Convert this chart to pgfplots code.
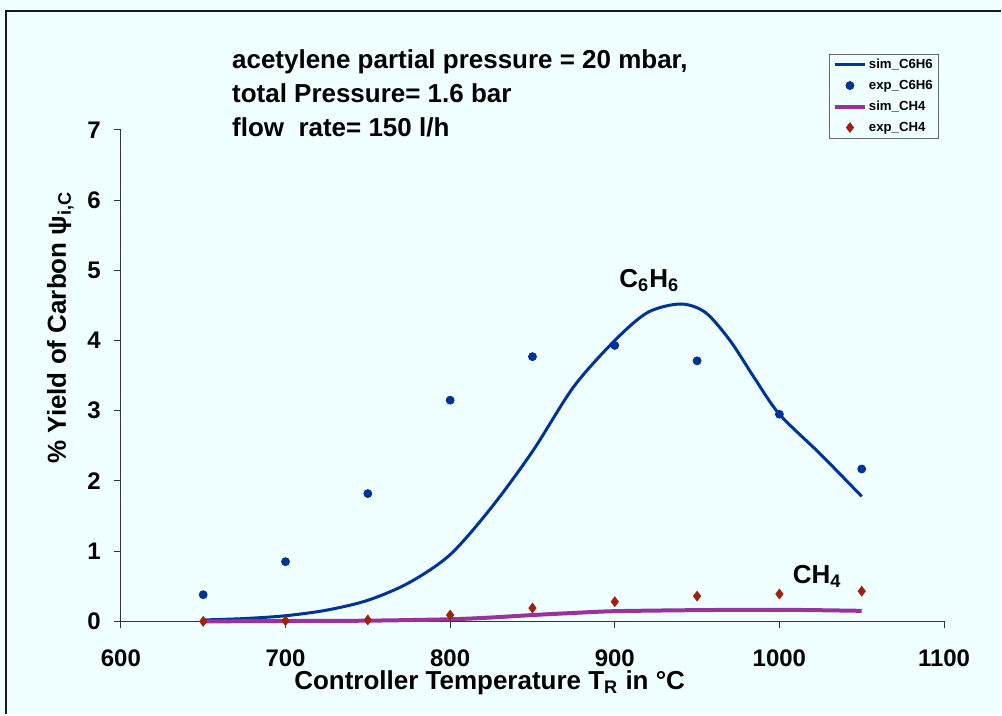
\documentclass[border=0pt]{standalone}
\usepackage{fontspec}
\setmainfont{Liberation Sans}
\usepackage{pgfplots}
\pgfplotsset{compat=1.18}
\definecolor{bgazure}{RGB}{240,255,255}
\definecolor{simblue}{RGB}{0,51,153}
\definecolor{simpurple}{RGB}{153,51,153}
\definecolor{expred}{RGB}{160,32,16}
\pgfplotsset{myleg/.style={legend image code/.code={%
  \draw[mark repeat=2,mark phase=2,##1] plot coordinates {(0pt,0pt) (7.5pt,0pt) (15pt,0pt)};}}}
\newcommand{\bigfont}{\fontsize{13}{15}\selectfont\bfseries}

\begin{document}
\begin{tikzpicture}
\fill[bgazure] (-60.5pt,-46.5pt) rectangle (440.5pt,311pt);
\begin{axis}[
  at={(0pt,0pt)}, anchor=south west,
  scale only axis, width=412pt, height=246pt,
  xmin=600, xmax=1100, ymin=0, ymax=7,
  xtick={600,700,...,1100}, ytick={0,1,...,7},
  axis x line=bottom, axis y line=left,
  axis line style={-, black!80, line width=0.5pt},
  tick style={black!80, line width=0.5pt},
  tick align=outside, major tick length=3.5pt,
  clip=false,
  /pgf/number format/assume math mode=true,
  /pgf/number format/1000 sep={},
  ticklabel style={font=\fontsize{12}{14}\selectfont\bfseries},
  xticklabel style={yshift=-7pt},
  yticklabel style={xshift=-3pt},
  xlabel={Controller Temperature T\textsubscript{R} in °C},
  xlabel style={at={([yshift=-34pt]axis description cs:0.448,0)}, anchor=base, font=\bigfont},
  ylabel={\% Yield of Carbon ψ\textsubscript{i,C}},
  ylabel style={at={([xshift=-27.5pt]axis description cs:0,0.598)}, anchor=base, font=\bigfont},
  legend style={at={(0.994,1.155)}, anchor=north east, draw=black!60, fill=bgazure,
    font=\fontsize{6.6}{8}\selectfont\bfseries, inner xsep=2pt, inner ysep=1pt,
    row sep=2pt, nodes={inner sep=1pt, text height=5pt, text depth=1.5pt}},
  legend cell align=left,
]
% sim_C6H6
\addplot[simblue, line width=1.5pt, smooth, no markers, myleg] coordinates {
  (650,0.02) (675,0.04) (700,0.08) (725,0.16) (750,0.30) (775,0.55)
  (800,0.95) (825,1.62) (850,2.42) (875,3.34) (900,4.00) (920,4.40)
  (940,4.52) (955,4.40) (970,4.00) (985,3.46) (1000,2.95) (1025,2.38)
  (1050,1.78)
};
% exp_C6H6
\addplot[only marks, myleg, mark=*, mark size=2pt, color=simblue] coordinates {
  (650,0.38) (700,0.85) (750,1.82) (800,3.15) (850,3.77)
  (900,3.93) (950,3.71) (1000,2.95) (1050,2.17)
};
% sim_CH4
\addplot[simpurple, line width=2pt, smooth, no markers, myleg] coordinates {
  (650,0.0) (700,0.005) (750,0.01) (800,0.03) (825,0.055) (850,0.09)
  (875,0.12) (900,0.145) (950,0.16) (1000,0.165) (1050,0.15)
};
% exp_CH4
\addplot[only marks, myleg, mark=diamond*, mark size=2.4pt, color=expred] coordinates {
  (650,0.0) (700,0.01) (750,0.02) (800,0.09) (850,0.19)
  (900,0.28) (950,0.36) (1000,0.39) (1050,0.43)
};
\legend{sim\_C6H6, exp\_C6H6, sim\_CH4, exp\_CH4}

\node[font=\bigfont, anchor=base] at (axis cs:921,4.76) {C\textsubscript{6}H\textsubscript{6}};
\node[font=\bigfont, anchor=base] at (axis cs:1023,0.54) {CH\textsubscript{4}};
\node[font=\bigfont, anchor=base west, inner sep=0pt] at (axis description cs:0.1347,1.124) {acetylene partial pressure = 20 mbar,};
\node[font=\bigfont, anchor=base west, inner sep=0pt] at (axis description cs:0.1347,1.0555) {total Pressure= 1.6 bar};
\node[font=\bigfont, anchor=base west, inner sep=0pt] at (axis description cs:0.1347,0.9864) {flow\ \ rate= 150 l/h};
\end{axis}
\draw[black!90, line width=1pt] (-57.25pt,-46.5pt) -- (-57.25pt,305.25pt) -- (440.5pt,305.25pt);
\end{tikzpicture}
\end{document}
